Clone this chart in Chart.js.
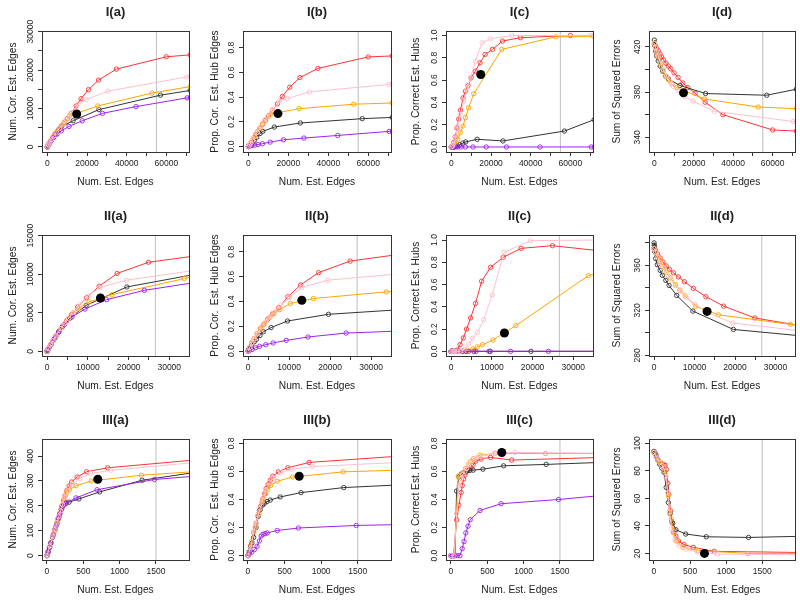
<!DOCTYPE html>
<html>
<head>
<meta charset="utf-8">
<script src="https://cdn.jsdelivr.net/npm/chart.js@4.4.0/dist/chart.umd.min.js"></script>
<style>
  html, body { margin: 0; padding: 0; background: #fff; width: 800px; height: 602px; overflow: hidden; }
  #wrap { position: relative; width: 800px; height: 602px; }
  canvas { position: absolute; }
</style>
</head>
<body>
<div id="wrap"></div>
<script>
// ---- row I (x = num. est. edges, shared by the 4 panels of the row)
const xI_red    = [0, 600, 1200, 2000, 2850, 3700, 4600, 5900, 7100, 8400, 10000, 12050, 14500, 17000, 20700, 25800, 34800, 60000, 72000];
const xI_pink   = [0, 600, 1200, 2000, 3200, 4500, 6200, 7900, 9600, 12100, 15500, 19600, 30500, 70300, 72000];
const xI_orange = [0, 600, 1200, 2000, 3200, 4500, 5900, 7100, 8700, 11300, 25400, 52700, 72000];
const xI_black  = [0, 300, 700, 1200, 2000, 3000, 4200, 5800, 7200, 13000, 26000, 57000, 72000];
const xI_purple = [0, 170, 840, 1840, 3170, 4850, 7050, 10900, 17600, 27800, 44700, 70500, 72000];

const Ia_red    = [0, 540, 1080, 1800, 2580, 3250, 3900, 4700, 5450, 6250, 7350, 8750, 10650, 12550, 14900, 17400, 20250, 23450, 23950];
const Ia_pink   = [0, 540, 1080, 1800, 2800, 3850, 4900, 5950, 7100, 8800, 11200, 12340, 14520, 18200, 18300];
const Ia_orange = [0, 540, 1080, 1800, 2850, 3850, 4750, 5450, 6500, 8100, 10670, 14000, 15700];
const Ia_black  = [0, 280, 630, 1050, 1700, 2500, 3400, 4450, 5300, 6820, 9710, 13470, 14700];
const Ia_purple = [0, 170, 800, 1570, 2450, 3320, 4200, 5340, 6820, 8750, 10500, 12770, 12850];

const Ib_red    = [0, 0.012, 0.027, 0.048, 0.07, 0.095, 0.118, 0.148, 0.18, 0.21, 0.246, 0.293, 0.345, 0.405, 0.48, 0.558, 0.632, 0.725, 0.733];
const Ib_pink   = [0, 0.012, 0.027, 0.048, 0.08, 0.115, 0.158, 0.2, 0.24, 0.295, 0.37, 0.388, 0.442, 0.502, 0.503];
const Ib_orange = [0, 0.012, 0.027, 0.048, 0.08, 0.115, 0.148, 0.18, 0.215, 0.263, 0.306, 0.342, 0.352];
const Ib_black  = [0, 0.003, 0.008, 0.015, 0.03, 0.05, 0.075, 0.105, 0.122, 0.157, 0.19, 0.225, 0.235];
const Ib_purple = [0, 0.002, 0.004, 0.008, 0.011, 0.016, 0.022, 0.035, 0.054, 0.068, 0.089, 0.122, 0.123];

const Ic_red    = [0, 0.01, 0.04, 0.09, 0.17, 0.25, 0.33, 0.44, 0.5, 0.55, 0.62, 0.68, 0.755, 0.83, 0.875, 0.95, 0.98, 1.0, 1.0];
const Ic_pink   = [0, 0.01, 0.03, 0.08, 0.19, 0.29, 0.41, 0.52, 0.62, 0.77, 0.935, 0.97, 1.0, 1.0, 1.0];
const Ic_orange = [0, 0, 0.01, 0.03, 0.069, 0.128, 0.188, 0.263, 0.352, 0.478, 0.875, 0.988, 0.99];
const Ic_black  = [0, 0, 0, 0, 0.005, 0.01, 0.02, 0.035, 0.045, 0.069, 0.054, 0.143, 0.245];
const Ic_purple = [0, 0, 0, 0, 0, 0, 0, 0, 0, 0, 0, 0, 0];

const Id_red    = [422.5, 420.5, 418.5, 416.4, 413.8, 411, 408.5, 405.5, 403, 400.5, 397, 393, 388, 384, 379, 371, 360, 346.5, 345.5];
const Id_pink   = [423, 419.5, 416, 412, 406, 400, 394, 389, 385, 381, 376, 372, 363, 354, 353.8];
const Id_orange = [423, 419, 415, 411, 405, 399, 394, 391, 387.5, 384, 373.9, 366.8, 365.3];
const Id_black  = [426, 421, 416, 412, 407.5, 403, 398.6, 394, 391.5, 385.8, 378.7, 377.2, 382.5];

// ---- row II
const xII_red    = [0, 400, 900, 1500, 2200, 3000, 3800, 4800, 6000, 7500, 9700, 12800, 17200, 24900, 36000];
const xII_pink   = [0, 400, 900, 1500, 2200, 3400, 4300, 5300, 6500, 8000, 10100, 13000, 19500, 36000];
const xII_orange = [0, 400, 900, 1500, 2200, 3000, 4000, 5300, 6400, 7700, 10300, 15900, 33700, 36000];
const xII_black  = [0, 50, 100, 200, 400, 800, 1500, 2050, 2900, 3700, 5600, 9600, 19600, 36000];
const xII_purple = [0, 330, 990, 1800, 2800, 4300, 6100, 9300, 14600, 23900, 36000];

const IIa_red    = [0, 380, 850, 1400, 2000, 2650, 3250, 3950, 4750, 5750, 6950, 8450, 10100, 11550, 12350];
const IIa_pink   = [0, 380, 850, 1400, 2000, 2950, 3600, 4300, 5050, 6050, 7200, 8300, 9220, 10480];
const IIa_orange = [0, 380, 850, 1400, 2000, 2650, 3400, 4300, 4950, 5550, 6400, 7350, 9430, 9700];
const IIa_black  = [0, 48, 95, 190, 380, 750, 1380, 1850, 2550, 3150, 4300, 5960, 8350, 9950];
const IIa_purple = [0, 310, 930, 1650, 2450, 3500, 4450, 5480, 6700, 7910, 8900];

const IIb_red    = [0, 0.03, 0.068, 0.1, 0.14, 0.18, 0.213, 0.257, 0.3, 0.35, 0.437, 0.533, 0.632, 0.725, 0.775];
const IIb_pink   = [0, 0.03, 0.068, 0.1, 0.14, 0.2, 0.235, 0.275, 0.315, 0.37, 0.43, 0.512, 0.571, 0.62];
const IIb_orange = [0, 0.03, 0.068, 0.1, 0.14, 0.18, 0.222, 0.27, 0.307, 0.334, 0.383, 0.423, 0.477, 0.48];
const IIb_black  = [0, 0.004, 0.008, 0.015, 0.025, 0.045, 0.075, 0.095, 0.125, 0.155, 0.189, 0.242, 0.296, 0.331];
const IIb_purple = [0, 0.005, 0.013, 0.027, 0.038, 0.051, 0.065, 0.086, 0.113, 0.145, 0.16];

const IIc_red    = [0, 0, 0, 0.01, 0.06, 0.12, 0.2, 0.3, 0.43, 0.63, 0.755, 0.845, 0.925, 0.949, 0.905];
const IIc_pink   = [0, 0, 0, 0, 0, 0.021, 0.066, 0.117, 0.171, 0.284, 0.506, 0.889, 0.994, 1.0];
const IIc_orange = [0, 0, 0, 0, 0, 0, 0.005, 0.021, 0.04, 0.06, 0.102, 0.231, 0.68, 0.7];
const IIc_black  = [0, 0, 0, 0, 0, 0, 0, 0, 0, 0, 0, 0, 0, 0];
const IIc_purple = [0, 0, 0, 0, 0, 0, 0, 0, 0, 0, 0];

const IId_red    = [375.5, 373.3, 370, 366.5, 363, 359.5, 356.5, 353.4, 349.8, 345.5, 339.6, 332.2, 323.8, 313.3, 306.5];
const IId_pink   = [375, 371.5, 367, 362.5, 358, 351, 347, 342, 337, 331.5, 325.7, 318.5, 308.7, 302];
const IId_orange = [375, 372, 368, 363.5, 359, 354, 349, 343, 338, 333, 323.6, 316.1, 307.6, 307];
const IId_black  = [380, 378, 376, 372, 366, 360.6, 355.6, 351.1, 346.7, 342.2, 333.3, 319.4, 303.1, 297.5];

// ---- row III
const xIII_red    = [0, 35, 78, 110, 140, 156, 174, 193, 206, 229, 248, 275, 305, 340, 415, 545, 835, 2100];
const xIII_pink   = [0, 40, 80, 110, 140, 165, 190, 215, 245, 290, 350, 450, 600, 880, 2100];
const xIII_orange = [0, 50, 100, 150, 200, 240, 270, 310, 400, 610, 1300, 2100];
const xIII_black  = [0, 15, 35, 55, 78, 110, 140, 170, 200, 225, 260, 305, 440, 725, 1310, 2100];
const xIII_purple = [0, 18, 50, 87, 124, 156, 180, 205, 235, 265, 400, 690, 1480, 2100];

const IIIa_red    = [0, 33, 74, 105, 133, 148, 166, 184, 200, 222, 240, 262, 280, 296, 316, 337, 353, 386];
const IIIa_pink   = [0, 38, 76, 105, 133, 158, 180, 205, 235, 262, 288, 310, 330, 343, 376];
const IIIa_orange = [0, 48, 95, 142, 188, 226, 254, 265, 281, 300, 323, 339];
const IIIa_black  = [0, 14, 33, 52, 74, 104, 130, 158, 185, 202, 210, 215, 228, 256, 303, 337];
const IIIa_purple = [0, 17, 48, 83, 118, 150, 170, 190, 205, 212, 232, 265, 306, 321];

const IIIb_red    = [0, 0.07, 0.167, 0.23, 0.291, 0.322, 0.351, 0.382, 0.406, 0.442, 0.478, 0.509, 0.537, 0.566, 0.597, 0.626, 0.664, 0.71];
const IIIb_pink   = [0, 0.06, 0.17, 0.23, 0.29, 0.335, 0.378, 0.415, 0.47, 0.52, 0.555, 0.59, 0.615, 0.635, 0.665];
const IIIb_orange = [0, 0.1, 0.2, 0.3, 0.39, 0.44, 0.47, 0.5, 0.53, 0.56, 0.597, 0.61];
const IIIb_black  = [0, 0.025, 0.06, 0.09, 0.13, 0.2, 0.28, 0.33, 0.36, 0.373, 0.385, 0.396, 0.418, 0.449, 0.485, 0.505];
const IIIb_purple = [0, 0.012, 0.024, 0.043, 0.067, 0.105, 0.14, 0.152, 0.157, 0.162, 0.179, 0.197, 0.215, 0.222];

const IIIc_red    = [0, 0, 0.255, 0.36, 0.45, 0.5, 0.545, 0.575, 0.595, 0.605, 0.615, 0.625, 0.645, 0.673, 0.688, 0.7, 0.681, 0.7];
const IIIc_pink   = [0, 0, 0.3, 0.5, 0.55, 0.58, 0.6, 0.62, 0.65, 0.68, 0.7, 0.71, 0.73, 0.735, 0.73];
const IIIc_orange = [0, 0, 0.566, 0.585, 0.62, 0.65, 0.67, 0.69, 0.716, 0.728, 0.728, 0.728];
const IIIc_black  = [0, 0, 0, 0, 0.46, 0.56, 0.58, 0.59, 0.6, 0.605, 0.607, 0.609, 0.616, 0.64, 0.65, 0.665];
const IIIc_purple = [0, 0, 0, 0, 0, 0.05, 0.1, 0.162, 0.21, 0.256, 0.322, 0.37, 0.4, 0.43];

const IIId_red    = [93.5, 90, 86, 85, 84.5, 84, 81, 71, 63, 51, 43, 35.5, 32.5, 29, 26.5, 24.4, 21.5, 20.6];
const IIId_pink   = [93.5, 90, 86, 84, 82, 76, 64, 50, 38, 30, 25.5, 23, 21, 19.5, 19];
const IIId_orange = [93.5, 88, 86, 80, 62, 45, 35, 29, 24.5, 22, 20, 20];
const IIId_black  = [94.2, 93, 91, 88, 85, 82, 79, 68, 57, 49, 42, 37.2, 34.1, 32.1, 31.6, 32.5];

// chosen model (big dot) and grey reference line per row
const dotX  = [14800, 13100, 700];
const dotY  = [[8570, 0.266, 0.65, 379.3], [6910, 0.409, 0.165, 319.1], [307, 0.566, 0.735, 20.0]];
const greyX = [55000, 26600, 1500];

// axis ranges and ticks
const xRange  = [[-2700, 71400], [-1250, 34850], [-68, 1955]];
const xMarks  = [[0, 10000, 20000, 30000, 40000, 50000, 60000, 70000], [0, 5000, 10000, 15000, 20000, 25000, 30000], [0, 500, 1000, 1500]];
const xLabels = [[0, 20000, 40000, 60000], [0, 10000, 20000, 30000], [0, 500, 1000, 1500]];

const yRange = [
  [[-1300, 30150], [-0.045, 0.935], [-0.045, 1.04], [327, 434]],
  [[-610, 15090], [-0.04, 0.935], [-0.042, 1.045], [279.5, 387]],
  [[-17.5, 468.7], [-0.031, 0.831], [-0.031, 0.831], [15.2, 103.2]]
];
const propTicks = [0, 0.2, 0.4, 0.6, 0.8];
const propTicks1 = [0, 0.2, 0.4, 0.6, 0.8, 1.0];
const yMarks = [
  [[0, 5000, 10000, 15000, 20000, 25000, 30000], propTicks, propTicks1, [340, 360, 380, 400, 420]],
  [[0, 5000, 10000, 15000], propTicks, propTicks1, [280, 300, 320, 340, 360, 380]],
  [[0, 100, 200, 300, 400], propTicks, propTicks, [20, 40, 60, 80, 100]]
];
const yLabels = [
  [[0, 10000, 20000, 30000], propTicks, propTicks1, [340, 380, 420]],
  [[0, 5000, 10000, 15000], propTicks, propTicks1, [280, 320, 360]],
  [[0, 100, 200, 300, 400], propTicks, propTicks, [20, 40, 60, 80, 100]]
];

const rowNames = ['I', 'II', 'III'];
const colNames = ['a', 'b', 'c', 'd'];
const yTitles = ['Num. Cor. Est. Edges', 'Prop. Cor.  Est. Hub Edges', 'Prop. Correct Est. Hubs', 'Sum of Squared Errors'];

const rowX = [
  [xI_red, xI_pink, xI_orange, xI_black, xI_purple],
  [xII_red, xII_pink, xII_orange, xII_black, xII_purple],
  [xIII_red, xIII_pink, xIII_orange, xIII_black, xIII_purple]
];
const panelY = [
  [[Ia_red, Ia_pink, Ia_orange, Ia_black, Ia_purple], [Ib_red, Ib_pink, Ib_orange, Ib_black, Ib_purple],
   [Ic_red, Ic_pink, Ic_orange, Ic_black, Ic_purple], [Id_red, Id_pink, Id_orange, Id_black, null]],
  [[IIa_red, IIa_pink, IIa_orange, IIa_black, IIa_purple], [IIb_red, IIb_pink, IIb_orange, IIb_black, IIb_purple],
   [IIc_red, IIc_pink, IIc_orange, IIc_black, IIc_purple], [IId_red, IId_pink, IId_orange, IId_black, null]],
  [[IIIa_red, IIIa_pink, IIIa_orange, IIIa_black, IIIa_purple], [IIIb_red, IIIb_pink, IIIb_orange, IIIb_black, IIIb_purple],
   [IIIc_red, IIIc_pink, IIIc_orange, IIIc_black, IIIc_purple], [IIId_red, IIId_pink, IIId_orange, IIId_black, null]]
];

const colors = ['#ff3333', '#ffc0cb', '#ffa500', '#333333', '#a020f0'];
// draw order: purple on top, then red, orange, black, pink
const drawOrder = [1, 4, 2, 3, 0];

// layout of the plot box inside each 200x200 canvas
const boxLeft  = [42, 43, 46, 49];
const boxRight = [189, 191, 193, 196];
const yTitleX  = [13, 15, 16, 17];
const FONT = '"Liberation Sans", Arial, Helvetica, sans-serif';

const rFrame = {
  id: 'rFrame',
  beforeDatasetsDraw(chart, args, opts) {
    const { ctx, chartArea: a } = chart;
    const gx = chart.scales.x.getPixelForValue(opts.grey);
    ctx.save();
    ctx.strokeStyle = '#c8c8c8';
    ctx.lineWidth = 1.2;
    ctx.beginPath();
    ctx.moveTo(gx, a.top);
    ctx.lineTo(gx, a.bottom);
    ctx.stroke();
    ctx.restore();
  },
  afterDraw(chart, args, opts) {
    const { ctx, chartArea: a } = chart;
    const y = chart.scales.y;
    ctx.save();
    ctx.strokeStyle = '#333';
    ctx.lineWidth = 1;
    ctx.strokeRect(Math.round(a.left) + 0.5, Math.round(a.top) + 0.5, Math.round(a.right - a.left), Math.round(a.bottom - a.top));
    // y tick labels, rotated like R's default axis
    ctx.fillStyle = '#222';
    ctx.font = '8.5px ' + FONT;
    ctx.textAlign = 'center';
    ctx.textBaseline = 'middle';
    opts.yLabels.forEach(v => {
      ctx.save();
      ctx.translate(a.left - 11, y.getPixelForValue(v));
      ctx.rotate(-Math.PI / 2);
      ctx.fillText(opts.decimals ? v.toFixed(1) : String(v), 0, 0);
      ctx.restore();
    });
    ctx.font = 'bold 13px ' + FONT;
    ctx.fillText(opts.title, (a.left + a.right) / 2, 12);
    ctx.restore();
  }
};

const wrap = document.getElementById('wrap');

for (let r = 0; r < 3; r++) {
  for (let c = 0; c < 4; c++) {
    const cv = document.createElement('canvas');
    cv.width = 200;
    cv.height = 200;
    cv.style.left = (c * 200) + 'px';
    cv.style.top = (r * 204) + 'px';
    wrap.appendChild(cv);

    const datasets = [{
      data: [{ x: dotX[r], y: dotY[r][c] }],
      showLine: false,
      pointRadius: 4.5,
      pointBackgroundColor: '#000',
      pointBorderColor: '#000',
      pointBorderWidth: 0,
      clip: 0
    }];
    drawOrder.forEach(k => {
      const ys = panelY[r][c][k];
      if (!ys) return;
      const xs = rowX[r][k];
      datasets.push({
        data: xs.map((x, i) => ({ x: x, y: ys[i] })),
        showLine: true,
        borderColor: colors[k],
        borderWidth: 1,
        pointRadius: 2.2,
        pointBorderWidth: 0.9,
        pointBorderColor: colors[k],
        pointBackgroundColor: 'rgba(0,0,0,0)',
        tension: 0,
        clip: 0
      });
    });

    const decimals = c === 1 || c === 2;
    new Chart(cv, {
      type: 'scatter',
      data: { datasets: datasets },
      options: {
        responsive: false,
        animation: false,
        events: [],
        devicePixelRatio: 1,
        layout: { padding: { left: yTitleX[c] - 6, right: 200 - boxRight[c], top: 31, bottom: 12 } },
        plugins: {
          legend: { display: false },
          tooltip: { enabled: false },
          rFrame: { grey: greyX[r], yLabels: yLabels[r][c], decimals: decimals, title: rowNames[r] + '(' + colNames[c] + ')' }
        },
        scales: {
          x: {
            type: 'linear',
            min: xRange[r][0],
            max: xRange[r][1],
            afterBuildTicks: s => { s.ticks = xMarks[r].map(v => ({ value: v })); },
            afterFit: s => { s.height = 36; },
            ticks: {
              autoSkip: false, maxRotation: 0, minRotation: 0, padding: 3, color: '#222',
              font: { size: 8.5, family: FONT },
              callback: v => xLabels[r].includes(v) ? String(v) : ''
            },
            grid: { drawOnChartArea: false, drawTicks: true, tickLength: 4, color: '#333' },
            border: { display: true, color: '#333' },
            title: { display: true, text: 'Num. Est. Edges', color: '#222', font: { size: 10.2, family: FONT }, padding: { top: 0, bottom: 0 } }
          },
          y: {
            type: 'linear',
            min: yRange[r][c][0],
            max: yRange[r][c][1],
            afterBuildTicks: s => { s.ticks = yMarks[r][c].map(v => ({ value: v })); },
            afterFit: s => { s.width = boxLeft[c] - (yTitleX[c] - 6); },
            ticks: { display: false },
            grid: { drawOnChartArea: false, drawTicks: true, tickLength: 4, color: '#333' },
            border: { display: true, color: '#333' },
            title: { display: true, text: yTitles[c], color: '#222', font: { size: 10.2, family: FONT }, padding: { top: 0, bottom: 0 } }
          }
        }
      },
      plugins: [rFrame]
    });
  }
}
</script>
</body>
</html>
